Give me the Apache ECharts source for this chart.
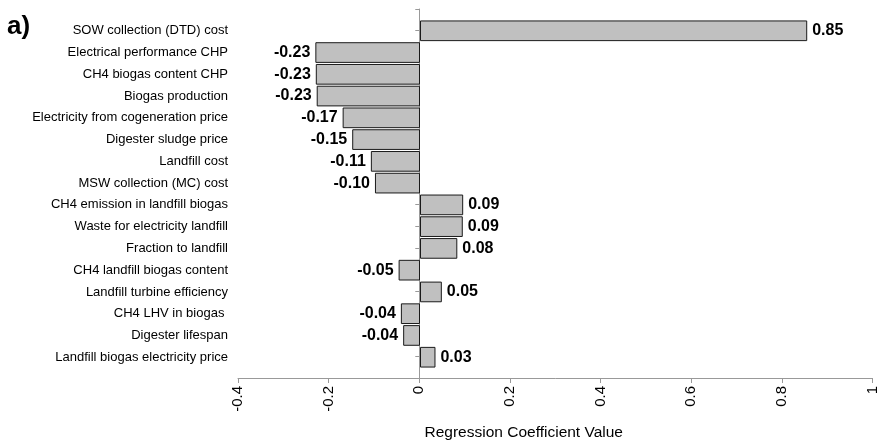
<!DOCTYPE html>
<html>
<head>
<meta charset="utf-8">
<script src="https://cdn.jsdelivr.net/npm/echarts@6/dist/echarts.min.js"></script>
<style>html,body{margin:0;padding:0;background:#fff}#c{width:880px;height:446px}</style>
</head>
<body>
<div id="c"></div>
<script>
var categories = [
  'SOW collection (DTD) cost',
  'Electrical performance CHP',
  'CH4 biogas content CHP',
  'Biogas production',
  'Electricity from cogeneration price',
  'Digester sludge price',
  'Landfill cost',
  'MSW collection (MC) cost',
  'CH4 emission in landfill biogas',
  'Waste for electricity landfill',
  'Fraction to landfill',
  'CH4 landfill biogas content',
  'Landfill turbine efficiency',
  'CH4 LHV in biogas ',
  'Digester lifespan',
  'Landfill biogas electricity price'
];
var coefficients = [0.851, -0.230, -0.229, -0.227, -0.170, -0.149, -0.108, -0.099, 0.0949, 0.094, 0.082, -0.047, 0.048, -0.042, -0.037, 0.034];
var xTicks = [-0.4, 1, 0.2];
var axisTitle = 'Regression Coefficient Value';
var panelLabel = 'a)';

var FONT = 'Liberation Sans, Arial, sans-serif';
var chart = echarts.init(document.getElementById('c'));
var barData = coefficients.map(function (v) {
  return { value: v, label: { position: v < 0 ? 'left' : 'right' } };
});
chart.setOption({
  animation: false,
  backgroundColor: '#fff',
  textStyle: { fontFamily: FONT },
  graphic: [{
    type: 'text', left: 7, top: 14,
    style: { text: panelLabel, font: 'bold 26px ' + FONT, fill: '#000' }
  }],
  grid: [
    { left: 238, right: 5, top: 19.9, height: 348.2 },
    { left: 238, right: 5, top: 9, height: 370 }
  ],
  xAxis: [
    { gridIndex: 0, type: 'value', min: xTicks[0], max: xTicks[1], show: false },
    {
      gridIndex: 1, type: 'value', min: xTicks[0], max: xTicks[1], interval: xTicks[2],
      axisLine: { show: true, onZero: false, lineStyle: { color: '#999', width: 1 } },
      axisTick: { show: true, length: 5, lineStyle: { color: '#999' } },
      axisLabel: { rotate: 90, fontSize: 15, color: '#000', margin: 8, fontFamily: FONT },
      splitLine: { show: false },
      name: axisTitle, nameLocation: 'middle', nameGap: 47,
      nameTextStyle: { fontSize: 15.5, color: '#000', fontFamily: FONT, padding: [0, 63, 0, 0] }
    }
  ],
  yAxis: [
    {
      gridIndex: 0, type: 'category', inverse: true, data: categories,
      axisLine: { show: false, onZero: false },
      axisTick: { show: false },
      axisLabel: { fontSize: 13, color: '#000', margin: 10, fontFamily: FONT }
    },
    {
      gridIndex: 1, type: 'value', inverse: true, min: 0, max: categories.length + 1, interval: 1,
      axisLine: { show: true, onZero: true, lineStyle: { color: '#999', width: 1 } },
      axisTick: { show: true, length: 4, lineStyle: { color: '#999' } },
      axisLabel: { show: false },
      splitLine: { show: false }
    }
  ],
  series: [{
    type: 'bar', xAxisIndex: 0, yAxisIndex: 0,
    data: barData,
    barCategoryGap: '5%',
    itemStyle: { color: '#c0c0c0', borderColor: '#1a1a1a', borderWidth: 1 },
    label: {
      show: true, distance: 5, fontSize: 16, fontWeight: 'bold', color: '#000', fontFamily: FONT,
      formatter: function (p) { return p.value.toFixed(2); }
    }
  }]
});
</script>
</body>
</html>
